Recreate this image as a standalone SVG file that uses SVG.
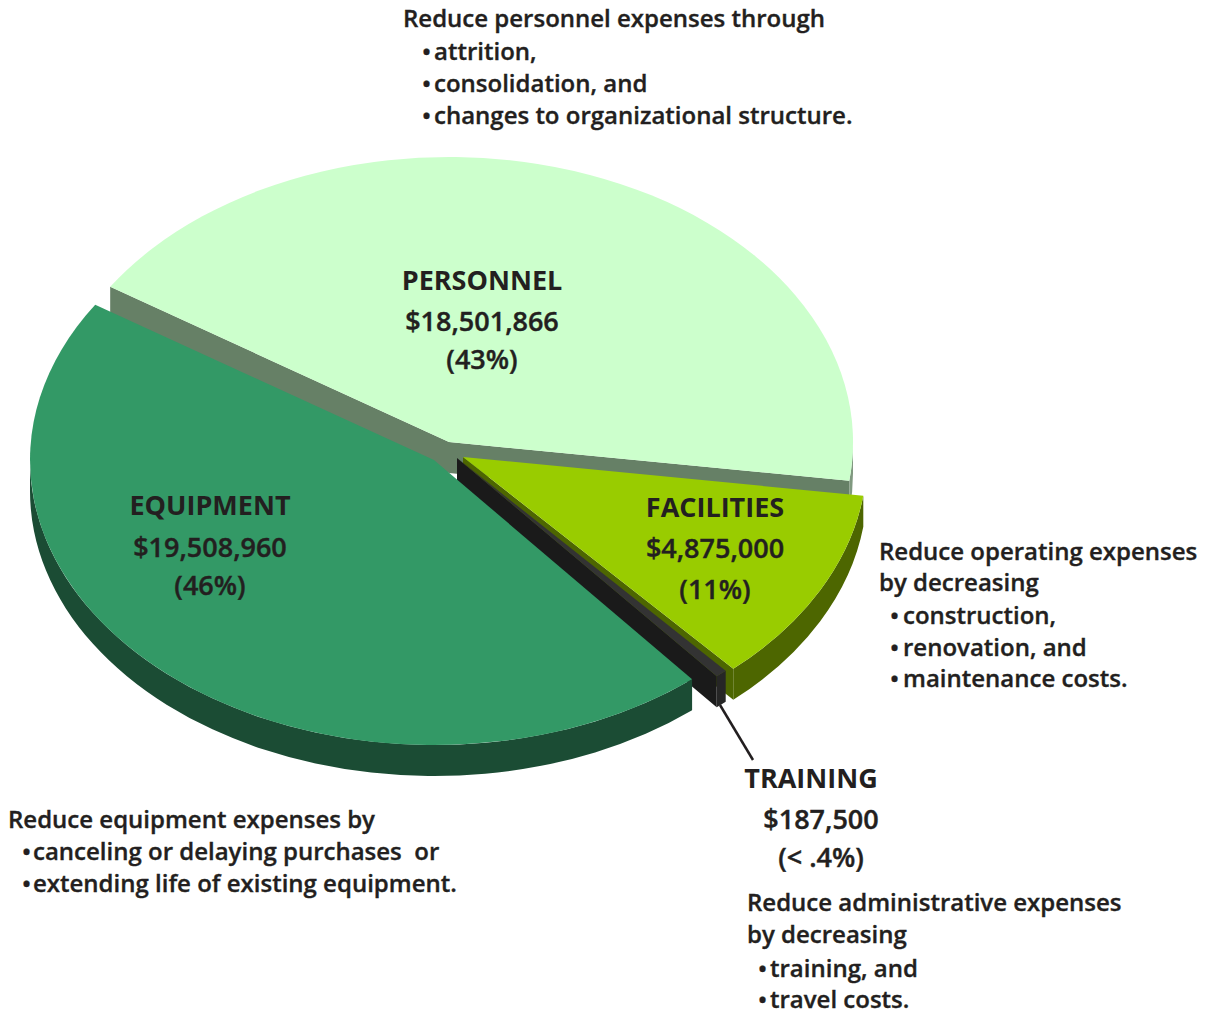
<svg xmlns="http://www.w3.org/2000/svg" width="1212" height="1013" viewBox="0 0 1212 1013">
<style>
text{font-family:"Open Sans","Noto Sans","Liberation Sans",sans-serif;fill:#231f20}
.name{font-size:27px;font-weight:700;text-anchor:middle}
.val{font-size:27px;font-weight:600;text-anchor:middle;stroke:#231f20;stroke-width:0.4}
.note{font-size:24px;font-weight:600;stroke:#231f20;stroke-width:0.35;white-space:pre}
.conn{stroke:#231f20;stroke-width:2.5;fill:none}
</style>
<rect width="1212" height="1013" fill="#ffffff"/>

<g id="node-personnel">
<polygon points="449,442 110.2,286.8 110.2,317.8 449,473" fill="#668066"/>
<polygon points="449,442 849.3,480.7 849.3,511.7 449,473" fill="#668066"/>
<path d="M853,442 A404 285 0 0 1 849.3,480.7 L849.3,511.7 A404 285 0 0 0 853,473 Z" fill="#809980"/>
<path d="M449,442 L110.2,286.8 A404 285 0 0 1 849.3,480.7 Z" fill="#ccffcc"/>
<text class="name" x="482" y="290">PERSONNEL</text>
<text class="val" x="482" y="331">$18,501,866</text>
<text class="val" x="482" y="369">(43%)</text>
</g>

<g id="node-facilities">
<polygon points="463,457 733.3,668.8 733.3,699.8 463,488" fill="#4d6600"/>
<path d="M863.3,495.7 A404 285 0 0 1 733.3,668.8 L733.3,699.8 A404 285 0 0 0 863.3,526.7 Z" fill="#4d6600"/>
<path d="M463,457 L863.3,495.7 A404 285 0 0 1 733.3,668.8 Z" fill="#99cc00"/>
<text class="name" x="715" y="517">FACILITIES</text>
<text class="val" x="715" y="558">$4,875,000</text>
<text class="val" x="715" y="599">(11%)</text>
</g>

<g id="node-training">
<polygon points="457,458 716.7,676.3 716.7,707.3 457,489" fill="#1a1a1a"/>
<path d="M725.7,670.8 A404 285 0 0 1 716.7,676.3 L716.7,707.3 A404 285 0 0 0 725.7,701.8 Z" fill="#262626"/>
<path d="M457,458 L725.7,670.8 A404 285 0 0 1 716.7,676.3 Z" fill="#333333"/>
<text class="name" x="811" y="788">TRAINING</text>
<text class="val" x="821" y="829">$187,500</text>
<text class="val" x="821" y="867">(&lt; .4%)</text>
</g>

<g id="node-equipment">
<path d="M692.1,679.3 A404 285 0 0 1 30,460 L30,491 A404 285 0 0 0 692.1,710.3 Z" fill="#1b4c34"/>
<path d="M434,460 L692.1,679.3 A404 285 0 0 1 95.2,304.8 Z" fill="#339966"/>
<text class="name" x="210" y="515">EQUIPMENT</text>
<text class="val" x="210" y="557">$19,508,960</text>
<text class="val" x="210" y="595">(46%)</text>
</g>

<g id="connectors">
<line class="conn" x1="720" y1="705" x2="753" y2="760"/>
</g>

<g id="note-personnel">
<text class="note" x="403" y="27">Reduce personnel expenses through</text>
<text class="note"><tspan x="422" y="60">•</tspan><tspan x="434" y="60">attrition,</tspan></text>
<text class="note"><tspan x="422" y="92">•</tspan><tspan x="434" y="92">consolidation, and</tspan></text>
<text class="note"><tspan x="422" y="124">•</tspan><tspan x="434" y="124">changes to organizational structure.</tspan></text>
</g>

<g id="note-facilities">
<text class="note" x="879" y="560">Reduce operating expenses</text>
<text class="note" x="879" y="591">by decreasing</text>
<text class="note"><tspan x="890" y="624">•</tspan><tspan x="903" y="624">construction,</tspan></text>
<text class="note"><tspan x="890" y="656">•</tspan><tspan x="903" y="656">renovation, and</tspan></text>
<text class="note"><tspan x="890" y="687">•</tspan><tspan x="903" y="687">maintenance costs.</tspan></text>
</g>

<g id="note-equipment">
<text class="note" x="8" y="828">Reduce equipment expenses by</text>
<text class="note"><tspan x="22" y="860">•</tspan><tspan x="33" y="860">canceling or delaying purchases  or</tspan></text>
<text class="note"><tspan x="22" y="892">•</tspan><tspan x="33" y="892">extending life of existing equipment.</tspan></text>
</g>

<g id="note-training">
<text class="note" x="747" y="911">Reduce administrative expenses</text>
<text class="note" x="747" y="943">by decreasing</text>
<text class="note"><tspan x="758" y="977">•</tspan><tspan x="770" y="977">training, and</tspan></text>
<text class="note"><tspan x="758" y="1008">•</tspan><tspan x="770" y="1008">travel costs.</tspan></text>
</g>
</svg>
